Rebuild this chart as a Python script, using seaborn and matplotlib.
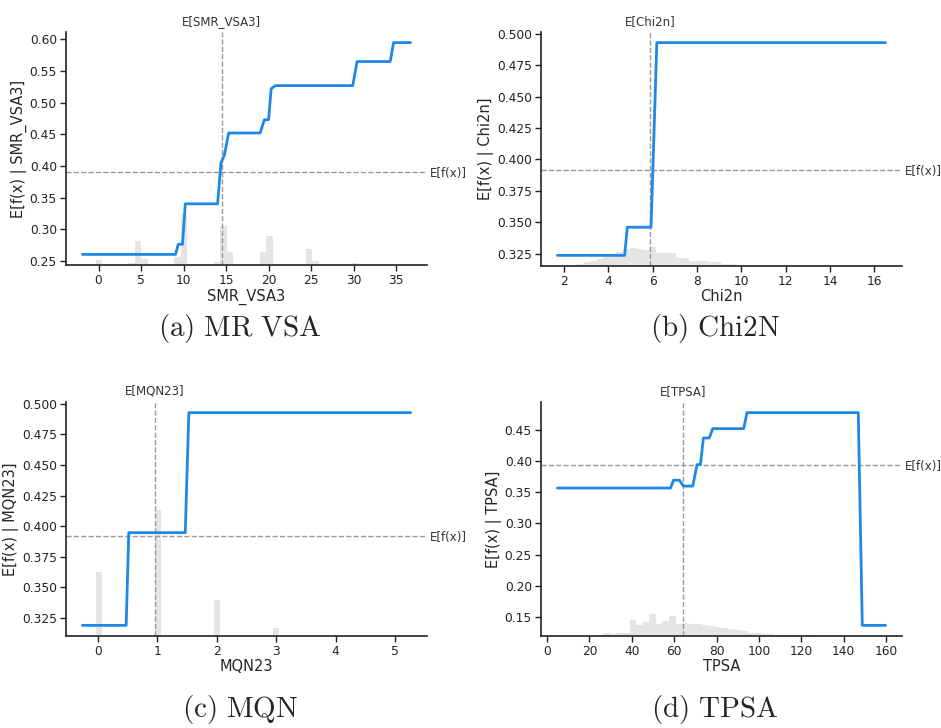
import numpy as np
import pandas as pd
import matplotlib
matplotlib.use("Agg")
import matplotlib.pyplot as plt
from matplotlib.ticker import FormatStrFormatter
import seaborn as sns

sns.set_style("ticks")
plt.rcParams["font.family"] = ["DejaVu Sans"]
plt.rcParams["mathtext.fontset"] = "cm"

# ---------------- data ----------------
features = ["SMR_VSA3", "Chi2n", "MQN23", "TPSA"]
captions = ["(a) MR VSA", "(b) Chi2N", "(c) MQN", "(d) TPSA"]

smr_x = [-1.9, 9.05, 9.37, 9.87, 10.2, 14.0, 14.4, 14.8, 15.3, 19.0, 19.5, 20.0,
         20.3, 20.8, 29.9, 30.4, 34.3, 34.7, 36.7]
smr_y = [0.260, 0.260, 0.276, 0.276, 0.340, 0.340, 0.405, 0.417, 0.452, 0.452, 0.473,
         0.473, 0.522, 0.527, 0.527, 0.565, 0.565, 0.595, 0.595]

chi_x = [1.71, 4.74, 4.86, 5.93, 6.19, 16.5]
chi_y = [0.3237, 0.3237, 0.3461, 0.3461, 0.493, 0.493]

mqn_x = [-0.26, 0.476, 0.52, 1.47, 1.53, 5.26]
mqn_y = [0.319, 0.319, 0.3947, 0.3947, 0.4927, 0.4927]

tpsa_x = [4.9, 58.3, 59.7, 62.5, 64.4, 68.8, 70.8, 72.4, 73.8, 76.6, 78.2, 92.8,
          94.4, 146.9, 148.8, 159.8]
tpsa_y = [0.3565, 0.3565, 0.369, 0.369, 0.3597, 0.3597, 0.394, 0.394, 0.4366,
          0.4366, 0.4516, 0.4516, 0.4772, 0.4772, 0.1367, 0.1367]

# histogram heights (fraction of axes height), 50 bins across the curve's x range
hist_smr = [0, 0, 0.021, 0, 0, 0, 0, 0.007, 0.104, 0.026,
            0, 0, 0, 0, 0.033, 0.218, 0.004, 0, 0, 0,
            0.011, 0.168, 0.057, 0, 0, 0, 0.006, 0.054, 0.125, 0,
            0, 0, 0, 0.006, 0.068, 0.018, 0, 0, 0, 0,
            0, 0.008, 0, 0, 0, 0, 0, 0.004, 0, 0]
hist_chi = [0.002, 0.002, 0.004, 0.008, 0.015, 0.02, 0.03, 0.04, 0.05, 0.06,
            0.072, 0.078, 0.072, 0.068, 0.083, 0.057, 0.057, 0.055, 0.033, 0.033,
            0.021, 0.021, 0.021, 0.015, 0.015, 0.007, 0.007, 0.004, 0.003, 0.002,
            0.002, 0.004, 0.003, 0.002, 0.001, 0.001, 0.001, 0, 0, 0,
            0, 0, 0, 0, 0, 0, 0, 0, 0, 0.001]
hist_mqn = [0, 0, 0.273, 0, 0, 0, 0, 0, 0, 0,
            0, 0.539, 0, 0, 0, 0, 0, 0, 0, 0,
            0.154, 0, 0, 0, 0, 0, 0, 0, 0, 0.033,
            0, 0, 0, 0, 0, 0, 0, 0, 0.003, 0,
            0, 0, 0, 0, 0, 0, 0, 0.001, 0, 0]
hist_tpsa = [0, 0, 0, 0, 0, 0, 0.003, 0.013, 0.008, 0.012,
             0.013, 0.07, 0.049, 0.06, 0.096, 0.053, 0.064, 0.084, 0.053, 0.057,
             0.053, 0.05, 0.046, 0.042, 0.039, 0.035, 0.029, 0.025, 0.02, 0.013,
             0.013, 0.01, 0.008, 0.006, 0.005, 0.004, 0.004, 0.003, 0.003, 0.006,
             0.002, 0.002, 0.001, 0.001, 0.001, 0.001, 0, 0, 0, 0]

feature_means = [14.5, 5.89, 0.963, 64.2]
expected_values = [0.391, 0.3918, 0.392, 0.3928]

xticks_list = [[0, 5, 10, 15, 20, 25, 30, 35], [2, 4, 6, 8, 10, 12, 14, 16],
               [0, 1, 2, 3, 4, 5], [0, 20, 40, 60, 80, 100, 120, 140, 160]]
yticks_list = [[0.25, 0.30, 0.35, 0.40, 0.45, 0.50, 0.55, 0.60],
               [0.325, 0.350, 0.375, 0.400, 0.425, 0.450, 0.475, 0.500],
               [0.325, 0.350, 0.375, 0.400, 0.425, 0.450, 0.475, 0.500],
               [0.15, 0.20, 0.25, 0.30, 0.35, 0.40, 0.45]]
yfmt = ["%.2f", "%.3f", "%.3f", "%.2f"]

curves = [(smr_x, smr_y), (chi_x, chi_y), (mqn_x, mqn_y), (tpsa_x, tpsa_y)]
hists = [hist_smr, hist_chi, hist_mqn, hist_tpsa]

# ---------------- figure ----------------
fig = plt.figure(figsize=(9.41, 7.28), dpi=100)
W, H = 941, 728
boxes = [(66, 32, 427, 265), (541, 32, 902, 266), (66, 402, 427, 636), (541, 402, 902, 636)]
cap_pos = [(240, 329), (715, 329), (240, 710), (715, 710)]

LINE = "#1E88E5"
GREY = "#999999"

for i in range(4):
    l, t, r, b = boxes[i]
    ax = fig.add_axes([l / W, 1 - b / H, (r - l) / W, (b - t) / H])
    xs, ys = curves[i]
    xmin, xmax = min(xs), max(xs)
    ymin, ymax = min(ys), max(ys)
    xr, yr = xmax - xmin, ymax - ymin
    xlim = (xmin - 0.05 * xr, xmax + 0.05 * xr)
    ylim = (ymin - 0.05 * yr, ymax + 0.05 * yr)

    # histogram on a twin axis
    axh = ax.twinx()
    edges = np.linspace(xmin, xmax, 51)
    centers = 0.5 * (edges[:-1] + edges[1:])
    hdf = pd.DataFrame({"x": centers, "w": hists[i]})
    sns.histplot(data=hdf, x="x", weights="w", bins=50, binrange=(xmin, xmax),
                 ax=axh, color="black", alpha=0.1, linewidth=0, edgecolor="none")
    axh.set_ylim(0, 1)
    axh.set_yticks([])
    axh.set_ylabel("")
    for s in axh.spines.values():
        s.set_visible(False)

    ax.set_zorder(axh.get_zorder() + 1)
    ax.patch.set_visible(False)

    sns.lineplot(x=xs, y=ys, ax=ax, color=LINE, linewidth=2.0, sort=False,
                 estimator=None)
    ax.axvline(feature_means[i], color=GREY, linestyle="--", linewidth=1, zorder=-1)
    ax.axhline(expected_values[i], color=GREY, linestyle="--", linewidth=1, zorder=-1)

    ax.set_xlim(xlim)
    ax.set_ylim(ylim)
    axh.set_xlim(xlim)
    ax.set_xticks(xticks_list[i])
    ax.set_yticks(yticks_list[i])
    ax.yaxis.set_major_formatter(FormatStrFormatter(yfmt[i]))
    ax.tick_params(labelsize=8.8, length=4, width=1, pad=2.5, colors="#222222")
    ax.set_xlabel(features[i], fontsize=10.5, labelpad=1)
    ax.set_ylabel("E[f(x) | %s]" % features[i], fontsize=10.5, labelpad=2)
    for s in ["top", "right"]:
        ax.spines[s].set_visible(False)
    for s in ["left", "bottom"]:
        ax.spines[s].set_linewidth(1.2)
        ax.spines[s].set_color("#222222")

    # top label for feature mean
    axt = ax.twiny()
    axt.set_xlim(xlim)
    axt.set_xticks([feature_means[i]])
    axt.set_xticklabels(["E[%s]" % features[i]], fontsize=8.5, color="#333333")
    axt.tick_params(length=0, pad=3)
    for s in axt.spines.values():
        s.set_visible(False)

    # right label for expected value
    axr = ax.twinx()
    axr.set_ylim(ylim)
    axr.set_yticks([expected_values[i]])
    axr.set_yticklabels(["E[f(x)]"], fontsize=8.5, color="#333333")
    axr.tick_params(length=0, pad=2)
    for s in axr.spines.values():
        s.set_visible(False)

    cx, cy = cap_pos[i]
    cap = captions[i].replace(" ", r"\ ")
    fig.text(cx / W, 1 - cy / H, r"$\mathrm{%s}$" % cap, ha="center", va="center",
             fontsize=21)

fig.savefig("out.png", dpi=100)
